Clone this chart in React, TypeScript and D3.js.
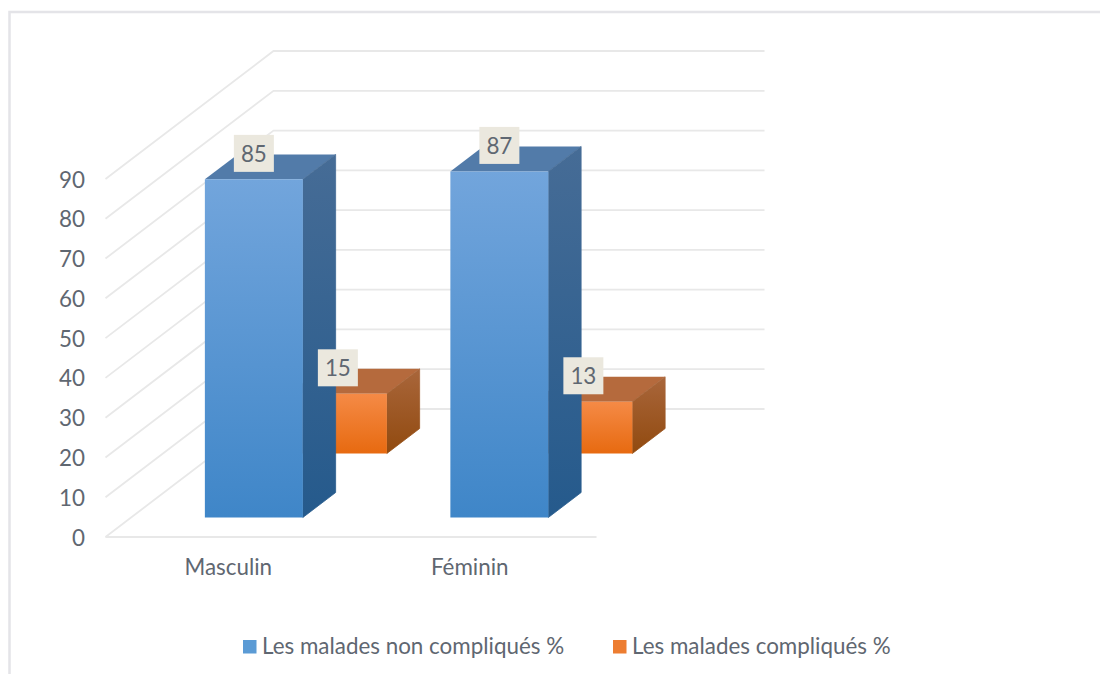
import * as d3 from "d3";

const categories = ["Masculin", "Féminin"];
const seriesNames = ["Les malades non compliqués %", "Les malades compliqués %"];
const nonCompliques = [85, 87];
const compliques = [15, 13];
const yTicks = [0, 10, 20, 30, 40, 50, 60, 70, 80, 90];
const gridValues = [0, 10, 20, 30, 40, 50, 60, 70, 80, 90];

const WIDTH = 1100;
const HEIGHT = 674;
const FONT = "Lato, Carlito, 'Open Sans', sans-serif";
const TEXT = "#5f6771";
const GRID = "#e8e8e8";
const FONT_SIZE = 22.4;

// front plane of the 3D box, and how far the floor recedes on screen
const FRONT = { left: 105.5, right: 596.5, bottom: 537 };
const DEPTH_X = 168;
const DEPTH_Y = 128;
const BAR_WIDTH = 98;
const BAR_DEPTH = 0.195;
// the second axis label sits a little left of its band in the original
const CATEGORY_NUDGE = [0, -4];

const xScale = d3.scaleBand().domain(categories).range([FRONT.left, FRONT.right]);
const yScale = d3.scaleLinear().domain([0, 90]).range([FRONT.bottom, 179]);
const depthScale = d3.scaleBand().domain(seriesNames).range([0, 1]);

// (x on front plane, value, depth 0..1) -> screen point
const project = (x: number, v: number, d: number): [number, number] => [
  x + d * DEPTH_X,
  yScale(v) - d * DEPTH_Y,
];

const poly = (pts: [number, number][]) => pts.map((p) => p.join(",")).join(" ");

const palettes = [
  { id: "blue", frontA: "#72a5dc", frontB: "#3f86c8", sideA: "#466c96", sideB: "#255a8c", top: "#527ba9" },
  { id: "orange", frontA: "#f58a46", frontB: "#e76a10", sideA: "#a9663b", sideB: "#914a0f", top: "#b56a3d" },
];

const Bar = ({ cat, value, s }: { cat: string; value: number; s: number }) => {
  const name = seriesNames[s];
  const pal = palettes[s];
  const cx = (xScale(cat) as number) + xScale.bandwidth() / 2;
  const mid = (depthScale(name) as number) + depthScale.bandwidth() / 2;
  const d0 = mid - BAR_DEPTH / 2;
  const d1 = mid + BAR_DEPTH / 2;
  const x0 = cx - BAR_WIDTH / 2;
  const x1 = cx + BAR_WIDTH / 2;
  const fbl = project(x0, 0, d0);
  const fbr = project(x1, 0, d0);
  const ftl = project(x0, value, d0);
  const ftr = project(x1, value, d0);
  const bbr = project(x1, 0, d1);
  const btr = project(x1, value, d1);
  const btl = project(x0, value, d1);
  return (
    <g>
      <polygon points={poly([ftl, ftr, btr, btl])} fill={pal.top} />
      {/* thin stroke closes the seam so the bar behind does not bleed through */}
      <polygon
        points={poly([fbr, ftr, btr, bbr])}
        fill={`url(#${pal.id}-side)`}
        stroke={`url(#${pal.id}-side)`}
        strokeWidth={0.8}
      />
      <polygon points={poly([fbl, fbr, ftr, ftl])} fill={`url(#${pal.id}-front)`} />
    </g>
  );
};

const DataLabel = ({ cat, value, s }: { cat: string; value: number; s: number }) => {
  const name = seriesNames[s];
  const cx = (xScale(cat) as number) + xScale.bandwidth() / 2;
  const mid = (depthScale(name) as number) + depthScale.bandwidth() / 2;
  const [x, topY] = project(cx, value, mid - BAR_DEPTH / 2);
  const y = topY - 26;
  return (
    <g>
      <rect x={x - 20} y={y - 18.5} width={40} height={37} fill="#ebe8de" />
      <text x={x} y={y} textAnchor="middle" dominantBaseline="central" fontSize={FONT_SIZE} fill={TEXT}>
        {value}
      </text>
    </g>
  );
};

export default function App() {
  const series = [nonCompliques, compliques];
  return (
    <svg
      width={WIDTH}
      height={HEIGHT}
      style={{ position: "absolute", left: 0, top: 0, background: "white" }}
      fontFamily={FONT}
    >
      <defs>
        {palettes.map((p) => (
          <g key={p.id}>
            <linearGradient id={`${p.id}-front`} x1="0" y1="0" x2="0" y2="1">
              <stop offset="0" stopColor={p.frontA} />
              <stop offset="1" stopColor={p.frontB} />
            </linearGradient>
            <linearGradient id={`${p.id}-side`} x1="0" y1="0" x2="0" y2="1">
              <stop offset="0" stopColor={p.sideA} />
              <stop offset="1" stopColor={p.sideB} />
            </linearGradient>
          </g>
        ))}
      </defs>

      {/* frame of the pasted chart */}
      <path d={`M1100,12H9.5V${HEIGHT}`} fill="none" stroke="#e4e4e8" strokeWidth={2.5} />

      {/* walls */}
      <g stroke={GRID} strokeWidth={1.8} fill="none">
        {gridValues.map((v) => {
          const a = project(FRONT.left, v, 0);
          const b = project(FRONT.left, v, 1);
          const c = project(FRONT.right, v, 1);
          return <polyline key={v} points={poly([a, b, c])} />;
        })}
        <line x1={FRONT.left} x2={FRONT.right} y1={yScale(0)} y2={yScale(0)} />
      </g>

      {/* back series first so the front bars overlap them */}
      {[1, 0].map((s) =>
        categories.map((c, i) => <Bar key={`${s}-${c}`} cat={c} value={series[s][i]} s={s} />)
      )}
      {[0, 1].map((s) =>
        categories.map((c, i) => <DataLabel key={`${s}-${c}`} cat={c} value={series[s][i]} s={s} />)
      )}

      {yTicks.map((t) => (
        <text
          key={t}
          x={85}
          y={yScale(t)}
          textAnchor="end"
          dominantBaseline="central"
          fontSize={FONT_SIZE}
          fill={TEXT}
        >
          {t}
        </text>
      ))}

      {categories.map((c, i) => (
        <text
          key={c}
          x={(xScale(c) as number) + xScale.bandwidth() / 2 + CATEGORY_NUDGE[i]}
          y={566.5}
          textAnchor="middle"
          dominantBaseline="central"
          fontSize={FONT_SIZE}
          fill={TEXT}
        >
          {c}
        </text>
      ))}

      {/* legend */}
      {seriesNames.map((name, i) => {
        const lx = i === 0 ? 243 : 613;
        return (
          <g key={name}>
            <rect x={lx} y={640} width={13.5} height={13.5} fill={i === 0 ? "#5b9bd5" : "#ed7d31"} />
            <text x={lx + 19} y={645.5} dominantBaseline="central" fontSize={FONT_SIZE} fill={TEXT}>
              {name}
            </text>
          </g>
        );
      })}
    </svg>
  );
}
